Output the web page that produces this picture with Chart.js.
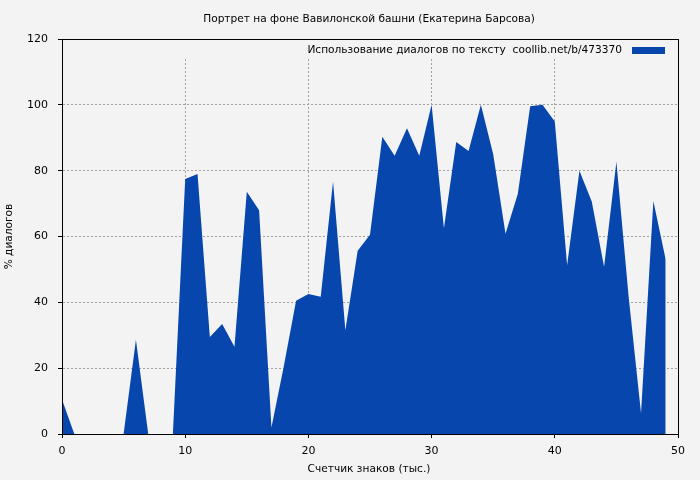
<!DOCTYPE html>
<html>
<head>
<meta charset="utf-8">
<script src="https://cdn.jsdelivr.net/npm/chart.js@4/dist/chart.umd.min.js"></script>
<style>
html,body{margin:0;padding:0;background:#f3f3f3;}
#wrap{width:700px;height:480px;}
</style>
</head>
<body>
<div id="wrap"><canvas id="c" width="700" height="480"></canvas></div>
<script>
const chartTitle = 'Портрет на фоне Вавилонской башни (Екатерина Барсова)';
const seriesLabel = 'Использование диалогов по тексту  coollib.net/b/473370';
const xAxisTitle = 'Счетчик знаков (тыс.)';
const yAxisTitle = '% диалогов';

const charCounts = [0,1,2,3,4,5,6,7,8,9,10,11,12,13,14,15,16,17,18,19,20,21,22,23,24,25,26,27,28,29,30,31,32,33,34,35,36,37,38,39,40,41,42,43,44,45,46,47,48,49];
const dialogPercent = [10.5,0,0,0,0,0,28.6,0,0,0,77.5,79,29.5,33.4,26.5,73.6,68,2,20.5,40.5,42.5,41.7,76.7,31.5,55.7,60.5,90.3,84.5,92.9,84.5,100,62.5,88.7,86,100,85,60.8,73,99.6,100,94.9,51.3,80,70.6,50.8,82.7,41.5,6.3,70.8,53];

const xTicks = [0,10,20,30,40,50];
const yTicks = [0,20,40,60,80,100,120];

const BG = '#f3f3f3';
const FILL = '#0747ad';
const FONT = '"DejaVu Sans", Verdana, sans-serif';

const points = charCounts.map((x, i) => ({x: x, y: dialogPercent[i]}));

const decor = {
  id: 'decor',
  beforeDraw(chart) {
    const ctx = chart.ctx;
    ctx.save();
    ctx.fillStyle = BG;
    ctx.fillRect(0, 0, chart.width, chart.height);
    ctx.restore();
  },
  beforeDatasetsDraw(chart) {
    const {ctx, chartArea: a} = chart;
    ctx.save();
    ctx.fillStyle = BG;
    ctx.fillRect(a.left + 1, a.top + 1, a.right - a.left - 2, 18);
    ctx.font = '10.6px ' + FONT;
    ctx.fillStyle = '#000';
    ctx.textAlign = 'right';
    ctx.textBaseline = 'middle';
    ctx.fillText(seriesLabel, 622, 50.5);
    ctx.fillStyle = FILL;
    ctx.fillRect(632, 47, 33, 7);
    ctx.restore();
  },
  afterDraw(chart) {
    const {ctx, chartArea: a} = chart;
    ctx.save();
    ctx.strokeStyle = '#000';
    ctx.lineWidth = 1;
    ctx.setLineDash([]);
    ctx.strokeRect(Math.round(a.left) + 0.5, Math.round(a.top) + 0.5, Math.round(a.right - a.left), Math.round(a.bottom - a.top));
    ctx.fillStyle = '#000';
    ctx.font = '10.6px ' + FONT;
    ctx.textAlign = 'center';
    ctx.textBaseline = 'middle';
    const cx = (a.left + a.right) / 2;
    ctx.fillText(chartTitle, cx - 1, 19);
    ctx.fillText(xAxisTitle, cx - 1, 469.5);
    ctx.translate(9, (a.top + a.bottom) / 2);
    ctx.rotate(-Math.PI / 2);
    ctx.fillText(yAxisTitle, 0, 0);
    ctx.restore();
  }
};

new Chart(document.getElementById('c'), {
  type: 'line',
  data: {
    datasets: [{
      label: seriesLabel,
      data: points,
      fill: 'origin',
      backgroundColor: FILL,
      borderColor: FILL,
      borderWidth: 0,
      pointRadius: 0,
      tension: 0
    }]
  },
  options: {
    responsive: false,
    animation: false,
    devicePixelRatio: 1,
    layout: {padding: {top: 39, right: 22, left: 0, bottom: 0}},
    plugins: {
      legend: {display: false},
      title: {display: false},
      tooltip: {enabled: false}
    },
    scales: {
      x: {
        type: 'linear',
        min: 0, max: 50,
        afterBuildTicks: s => { s.ticks = xTicks.map(v => ({value: v})); },
        afterFit: s => { s.height = 46; },
        ticks: {color: '#000', font: {family: FONT, size: 11}, padding: 7, maxRotation: 0},
        grid: {color: '#a0a0a0', lineWidth: 1, tickLength: 4, tickColor: '#000', drawTicks: true},
        border: {display: true, color: '#000', width: 1, dash: [2, 2]}
      },
      y: {
        type: 'linear',
        min: 0, max: 120,
        afterBuildTicks: s => { s.ticks = yTicks.map(v => ({value: v})); },
        afterFit: s => { s.width = 62; },
        ticks: {color: '#000', font: {family: FONT, size: 11}, padding: 10},
        grid: {color: '#a0a0a0', lineWidth: 1, tickLength: 4, tickColor: '#000', drawTicks: true},
        border: {display: true, color: '#000', width: 1, dash: [2, 2]}
      }
    }
  },
  plugins: [decor]
});
</script>
</body>
</html>
